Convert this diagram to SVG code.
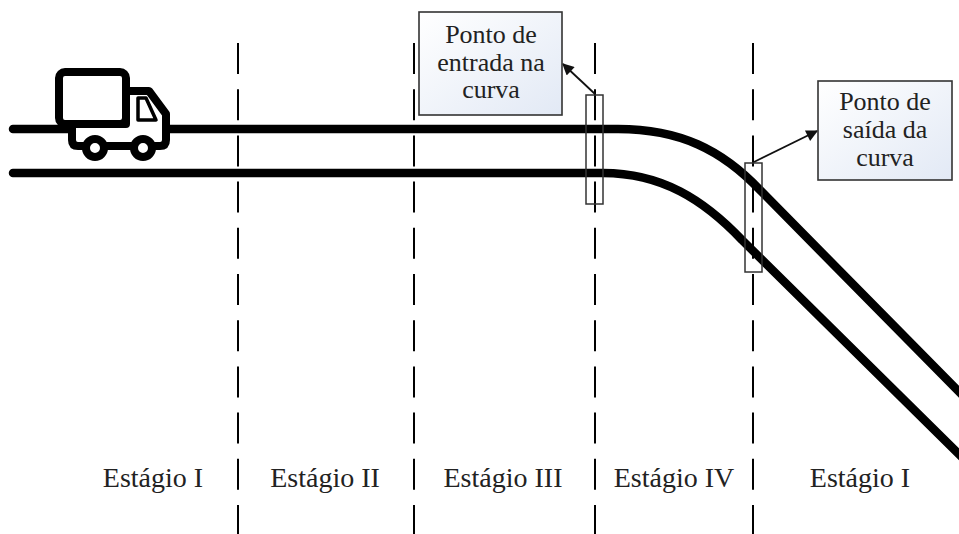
<svg xmlns="http://www.w3.org/2000/svg" width="959" height="534" viewBox="0 0 959 534">
<style>
.road{fill:none;stroke:#000;stroke-width:8.5;stroke-linecap:round;stroke-linejoin:round}
.dash{stroke:#000;stroke-width:2;stroke-dasharray:31 15.2}
.mark{fill:none;stroke:#333;stroke-width:1.5}
.box{fill:url(#bg);stroke:#333;stroke-width:1.6}
.lbl{font-family:"Liberation Serif","Times New Roman",serif;font-size:26px;fill:#222;text-anchor:middle}
.stage{font-family:"Liberation Serif","Times New Roman",serif;font-size:28px;fill:#222;text-anchor:middle}
.arr{stroke:#111;stroke-width:1.8;fill:none;marker-end:url(#ah)}
.truck{fill:#fff;stroke:#000;stroke-width:8;stroke-linejoin:round}
</style>
<defs>
<linearGradient id="bg" x1="0" y1="0" x2="1" y2="1">
<stop offset="0" stop-color="#ffffff"/>
<stop offset="1" stop-color="#e2e9f5"/>
</linearGradient>
<marker id="ah" viewBox="0 0 10 10" refX="9" refY="5" markerWidth="8" markerHeight="6.5" markerUnits="strokeWidth" orient="auto">
<path d="M0 0 L10 5 L0 10 Z" fill="#111"/>
</marker>
</defs>
<rect width="959" height="534" fill="#fff"/>
<g id="road">
<path class="road" d="M13 129 H618 C680 129 722 150 760 190 L975 408"/>
<path class="road" d="M13 173 H603 C662 173 704 200 742 240 L975 470"/>
</g>
<g id="stage-lines">
<line class="dash" x1="238" y1="43" x2="238" y2="534"/>
<line class="dash" x1="414" y1="43" x2="414" y2="534"/>
<line class="dash" x1="595" y1="43" x2="595" y2="534"/>
<line class="dash" x1="753" y1="43" x2="753" y2="534"/>
</g>
<g id="truck">
<path class="truck" d="M72 124 V140 Q72 146 78 146 H160 Q166 146 166 140 V114 L149 91 H126 V124 Z"/>
<rect class="truck" x="59" y="72" width="67" height="52" rx="6"/>
<path d="M138 98 H146 L156 120 H138 Z" fill="#fff" stroke="#000" stroke-width="3.5" stroke-linejoin="round"/>
<circle class="truck" cx="95" cy="148" r="9"/>
<circle class="truck" cx="143" cy="148" r="9"/>
</g>
<g id="entry-marker">
<rect class="mark" x="586" y="95" width="17" height="109"/>
</g>
<g id="exit-marker">
<rect class="mark" x="745" y="163" width="17" height="109"/>
</g>
<g id="connectors">
<line class="arr" x1="595" y1="94" x2="563" y2="64"/>
<line class="arr" x1="754" y1="162" x2="817" y2="131"/>
</g>
<g id="entry-box">
<rect class="box" x="419" y="12" width="143" height="103"/>
<text class="lbl" x="491" y="43">Ponto de</text>
<text class="lbl" x="491" y="71">entrada na</text>
<text class="lbl" x="491" y="98">curva</text>
</g>
<g id="exit-box">
<rect class="box" x="818" y="81" width="134" height="99"/>
<text class="lbl" x="885" y="110">Ponto de</text>
<text class="lbl" x="885" y="138">saída da</text>
<text class="lbl" x="885" y="166">curva</text>
</g>
<g id="stage-labels">
<text class="stage" x="153" y="487">Estágio I</text>
<text class="stage" x="325" y="487">Estágio II</text>
<text class="stage" x="503" y="487">Estágio III</text>
<text class="stage" x="674" y="487">Estágio IV</text>
<text class="stage" x="860" y="487">Estágio I</text>
</g>
</svg>
